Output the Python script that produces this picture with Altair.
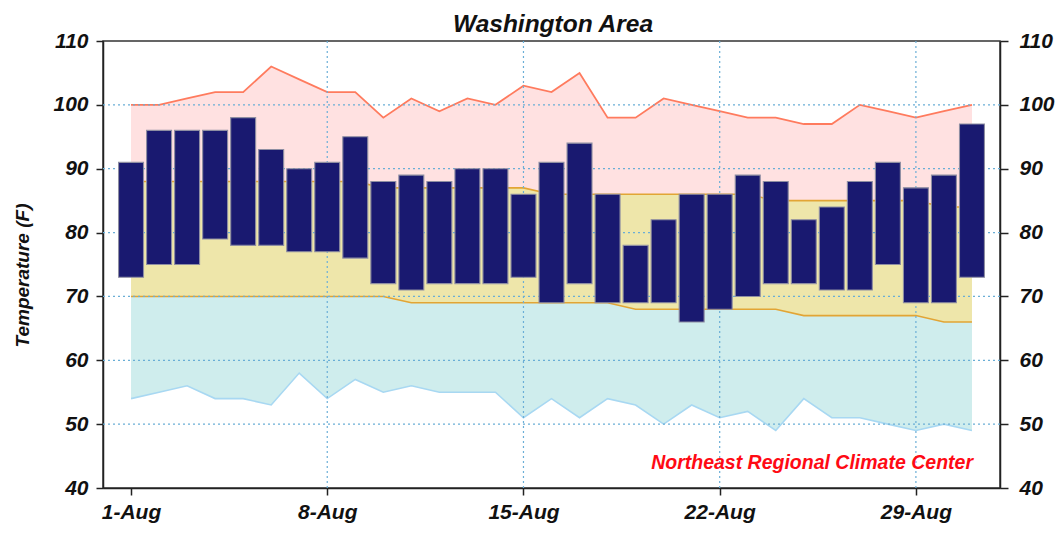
import altair as alt
import pandas as pd

# ---------------- data ----------------
days = [1, 2, 3, 4, 5, 6, 7, 8, 9, 10, 11, 12, 13, 14, 15, 16,
        17, 18, 19, 20, 21, 22, 23, 24, 25, 26, 27, 28, 29, 30, 31]
obs_high = [91, 96, 96, 96, 98, 93, 90, 91, 95, 88, 89, 88, 90, 90, 86, 91,
            94, 86, 78, 82, 86, 86, 89, 88, 82, 84, 88, 91, 87, 89, 97]
obs_low = [73, 75, 75, 79, 78, 78, 77, 77, 76, 72, 71, 72, 72, 72, 73, 69,
           72, 69, 69, 69, 66, 68, 70, 72, 72, 71, 71, 75, 69, 69, 73]
record_high = [100, 100, 101, 102, 102, 106, 104, 102, 102, 98, 101, 99, 101, 100, 103, 102,
               105, 98, 98, 101, 100, 99, 98, 98, 97, 97, 100, 99, 98, 99, 100]
record_low = [54, 55, 56, 54, 54, 53, 58, 54, 57, 55, 56, 55, 55, 55, 51, 54,
              51, 54, 53, 50, 53, 51, 52, 49, 54, 51, 51, 50, 49, 50, 49]
normal_high = [88, 88, 88, 88, 88, 88, 88, 88, 88, 87, 87, 87, 87, 87, 87, 86,
               86, 86, 86, 86, 86, 86, 86, 85, 85, 85, 85, 85, 85, 84, 84]
normal_low = [70, 70, 70, 70, 70, 70, 70, 70, 70, 70, 69, 69, 69, 69, 69, 69,
              69, 69, 68, 68, 68, 68, 68, 68, 67, 67, 67, 67, 67, 66, 66]

x_tick_days = [1, 8, 15, 22, 29]
x_tick_labels = ["1-Aug", "8-Aug", "15-Aug", "22-Aug", "29-Aug"]
y_ticks = [40, 50, 60, 70, 80, 90, 100, 110]
y_grid = [50, 60, 70, 80, 90, 100]
x_grid = [8, 15, 22, 29]
title_text = ["Washington Area"]
y_title = "Temperature (F)"
credit = ["Northeast Regional Climate Center"]

df = pd.DataFrame({
    "day": days, "hi": obs_high, "lo": obs_low,
    "rh": record_high, "rl": record_low, "nh": normal_high, "nl": normal_low,
})

FONT = "Liberation Sans"
LBL = 21

x_scale = alt.Scale(domain=[0, 32], nice=False, zero=False)
y_scale = alt.Scale(domain=[40, 110], nice=False, zero=False)

label_array = "[" + ",".join("'" + s + "'" for s in x_tick_labels) + "]"
x_axis = alt.Axis(values=x_tick_days, labelExpr=label_array + "[(datum.value-1)/7]",
                  title=None, grid=False, tickSize=7, labelPadding=6,
                  labelFontSize=LBL)
y_axis_left = alt.Axis(values=y_ticks, title=y_title, grid=False, tickSize=7,
                       labelPadding=8, labelFontSize=LBL, titleFontSize=19,
                       titlePadding=20, titleY=234)
y_axis_right = alt.Axis(values=y_ticks, title=None, grid=False, orient="right",
                        tickSize=8, labelPadding=11, labelFontSize=LBL)

X = alt.X("day:Q", scale=x_scale, axis=x_axis)

def Y(field):
    return alt.Y(field, type="quantitative", scale=y_scale, axis=y_axis_left)

def Y2(field):
    return alt.Y2(field)

base = alt.Chart(df)

area_hi = base.mark_area(color="#FFE1E1", opacity=1).encode(x=X, y=Y("nh"), y2=Y2("rh"))
area_mid = base.mark_area(color="#EEE6AA", opacity=1).encode(x=X, y=Y("nl"), y2=Y2("nh"))
area_lo = base.mark_area(color="#CFEDED", opacity=1).encode(x=X, y=Y("rl"), y2=Y2("nl"))

line_rh = base.mark_line(color="#FF7B5E", strokeWidth=1.8).encode(x=X, y=Y("rh"))
line_nh = base.mark_line(color="#E2A535", strokeWidth=1.6).encode(x=X, y=Y("nh"))
line_nl = base.mark_line(color="#E2A535", strokeWidth=1.6).encode(x=X, y=Y("nl"))
line_rl = base.mark_line(color="#A8D8F2", strokeWidth=1.6).encode(x=X, y=Y("rl"))

grid_h = alt.Chart(pd.DataFrame({"g": y_grid})).mark_rule(
    color="#6AAED6", strokeDash=[2, 3], strokeWidth=1.2
).encode(y=alt.Y("g:Q", scale=y_scale, axis=y_axis_left))
grid_v = alt.Chart(pd.DataFrame({"g": x_grid})).mark_rule(
    color="#6AAED6", strokeDash=[2, 3], strokeWidth=1.2
).encode(x=alt.X("g:Q", scale=x_scale, axis=x_axis))

bars = base.transform_calculate(
    x0="datum.day - 0.445", x1="datum.day + 0.445"
).mark_bar(color="#191970", stroke="#8E8EA2", strokeWidth=1.1).encode(
    x=alt.X("x0:Q", scale=x_scale, axis=x_axis), x2="x1:Q", y=Y("lo"), y2=Y2("hi")
)

note = alt.Chart(pd.DataFrame({"t": credit})).mark_text(
    align="right", baseline="middle", color="#FF0A14", font=FONT,
    fontSize=19.5, fontStyle="italic", fontWeight="bold"
).encode(x=alt.value(870), y=alt.value(422), text="t:N")

title = alt.Chart(pd.DataFrame({"t": title_text})).mark_text(
    align="center", baseline="alphabetic", color="#111111", font=FONT,
    fontSize=24.5, fontStyle="italic", fontWeight="bold"
).encode(x=alt.value(450), y=alt.value(-9), text="t:N")

left = alt.layer(area_hi, area_mid, area_lo, line_rh, line_nh, line_nl, line_rl,
                 grid_h, grid_v, bars, note, title)

right = base.mark_point(opacity=0).encode(
    x=X, y=alt.Y("hi:Q", scale=y_scale, axis=y_axis_right)
)

chart = alt.layer(left, right).resolve_scale(y="independent").properties(
    width=897, height=447,
    autosize=alt.AutoSizeParams(type="none"),
    padding={"left": 95, "top": 33, "right": 55, "bottom": 37},
).configure_view(
    stroke="#333333", strokeWidth=1.5
).configure_axis(
    labelFont=FONT, titleFont=FONT, labelFontStyle="italic", labelFontWeight="bold",
    titleFontStyle="italic", titleFontWeight="bold", labelColor="#111111",
    titleColor="#111111", domainColor="#222222", domainWidth=1.5,
    tickColor="#222222", tickWidth=1.5
)

chart.save("out.html", embed_options={"renderer": "svg", "actions": False})
